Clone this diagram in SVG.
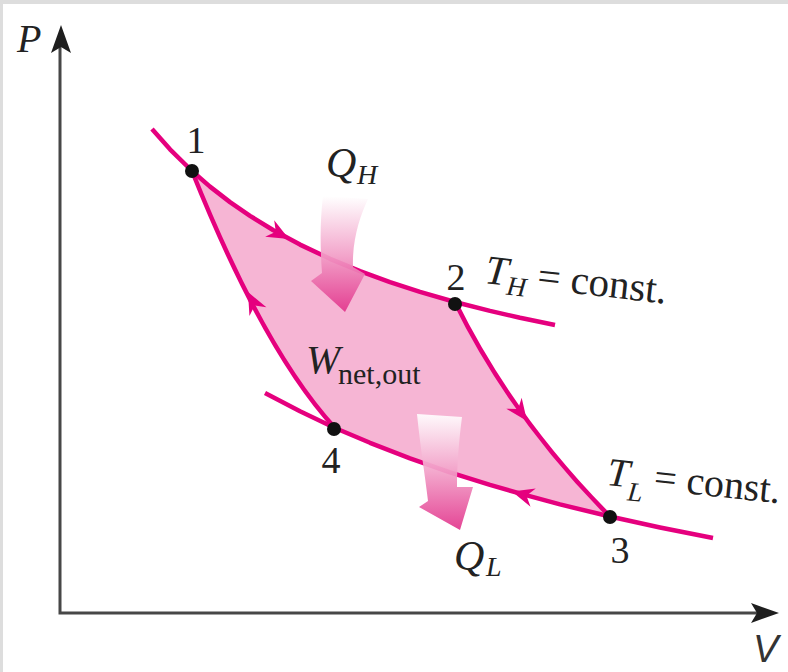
<svg xmlns="http://www.w3.org/2000/svg" xmlns:xlink="http://www.w3.org/1999/xlink" width="788" height="672" viewBox="0 0 788 672">
<style>
.curve{fill:none;stroke:#e5007e;stroke-width:4.5;stroke-linejoin:round;stroke-linecap:butt}
.axis{fill:none;stroke:#474747;stroke-width:3}
.lbl{font-family:"Liberation Serif","Times New Roman",serif;fill:#222}
.it{font-style:italic}
.dot{fill:#111}
.ah{fill:#e5007e}
</style>
<defs>
<path id="ah" d="M0,0 L-22,-9.5 L-15,0 L-22,9.5 Z"/>
<linearGradient id="gH" gradientUnits="userSpaceOnUse" x1="0" y1="196" x2="0" y2="312">
<stop offset="0" stop-color="#ffffff"/>
<stop offset="0.5" stop-color="#f2a0c8"/>
<stop offset="1" stop-color="#e2358c"/>
</linearGradient>
<linearGradient id="gL" gradientUnits="userSpaceOnUse" x1="0" y1="414" x2="0" y2="530">
<stop offset="0" stop-color="#ffffff"/>
<stop offset="0.5" stop-color="#f2a0c8"/>
<stop offset="1" stop-color="#e2358c"/>
</linearGradient>
</defs>
<rect x="0" y="0" width="788" height="672" fill="#ffffff"/>
<rect x="0" y="0" width="788" height="4" fill="#dddddd"/>
<rect x="0" y="0" width="3" height="672" fill="#dddddd"/>

<g id="axes">
<path class="axis" d="M60,44 L60,613 L758,613"/>
<path d="M61,25 L71,53 L61,47 L51,53 Z" fill="#1e1e1e"/>
<path d="M779,613 L751,603 L757,613 L751,623 Z" fill="#1e1e1e"/>
<text class="lbl it" x="17" y="52" font-size="40">P</text>
<text x="753" y="662" font-family="Liberation Sans, Arial, sans-serif" font-style="italic" font-size="38" fill="#333">V</text>
</g>

<g id="cycle-area">
<path fill="#f6b5d4" d="M192,171 L210,186.6 L230,202.1 L250,215.8 L273,230 L300,244.6 L330,258.8 L360,271.2 L390,282.1 L420,291.9 L455,302 Q512,418 610,516.5 L560,504.4 L525,494.9 L490,484.9 L450,472.3 L410,458.3 L370,442.8 L335,428 Q264,351 192,171 Z"/>
</g>

<g id="connectors">
<path id="isotherm-high" class="curve" d="M152,129 L170,149.3 L192,171 L210,186.6 L230,202.1 L250,215.8 L273,230 L300,244.6 L330,258.8 L360,271.2 L390,282.1 L420,291.9 L455,302 L490,310.9 L520,317.8 L555,325"/>
<path id="isotherm-low" class="curve" d="M265,393 L300,411.3 L335,428 L370,442.8 L410,458.3 L450,472.3 L490,484.9 L525,494.9 L560,504.4 L610,516.5 L660,527.5 L713,538"/>
<path id="adiabat-23" class="curve" d="M455,302 Q512,418 610,516.5"/>
<path id="adiabat-41" class="curve" d="M192,171 Q264,351 335,428"/>
<use xlink:href="#ah" class="ah" transform="translate(289,239) rotate(28.5)"/>
<use xlink:href="#ah" class="ah" transform="translate(527,421) rotate(53.8)"/>
<use xlink:href="#ah" class="ah" transform="translate(512,491.5) rotate(-164)"/>
<use xlink:href="#ah" class="ah" transform="translate(248,292) rotate(-116.8)"/>
</g>

<g id="heat-in">
<path fill="url(#gH)" fill-opacity="0.92" d="M323,196 L368,199 C360,216 352,240 353,267 L365,274 L345,312 L311,281 L322,273 C320,246 320,221 323,196 Z"/>
<text class="lbl" x="326" y="177"><tspan class="it" font-size="42">Q</tspan><tspan class="it" font-size="28" x="357" y="184">H</tspan></text>
</g>

<g id="heat-out">
<path fill="url(#gL)" fill-opacity="0.92" d="M417,414 L462,417 C459,440 457,465 457,487 L473,487 L460,530 L419,507 L428,501 C425,475 420,445 417,414 Z"/>
<text class="lbl" x="454" y="570"><tspan class="it" font-size="42">Q</tspan><tspan class="it" font-size="28" x="486" y="576">L</tspan></text>
</g>

<g id="work">
<text class="lbl" x="306" y="373"><tspan class="it" font-size="41">W</tspan><tspan font-size="30" x="338" y="384">net,out</tspan></text>
</g>

<g id="state-1"><circle class="dot" cx="192" cy="171" r="7"/><text class="lbl" x="196" y="153" font-size="38" text-anchor="middle">1</text></g>
<g id="state-2"><circle class="dot" cx="455" cy="304" r="7"/><text class="lbl" x="456" y="290" font-size="38" text-anchor="middle">2</text></g>
<g id="state-3"><circle class="dot" cx="610" cy="517" r="7"/><text class="lbl" x="620" y="563" font-size="38" text-anchor="middle">3</text></g>
<g id="state-4"><circle class="dot" cx="334" cy="429" r="7"/><text class="lbl" x="331" y="473" font-size="38" text-anchor="middle">4</text></g>

<g id="label-TH" transform="translate(484,283) rotate(6.5)">
<text class="lbl" x="0" y="0" font-size="41"><tspan class="it">T</tspan><tspan class="it" font-size="27" dy="9">H</tspan><tspan dy="-9"> = const.</tspan></text>
</g>
<g id="label-TL" transform="translate(606,485) rotate(6)">
<text class="lbl" x="0" y="0" font-size="40"><tspan class="it">T</tspan><tspan class="it" font-size="27" dy="13">L</tspan><tspan dy="-13"> = const.</tspan></text>
</g>
</svg>
